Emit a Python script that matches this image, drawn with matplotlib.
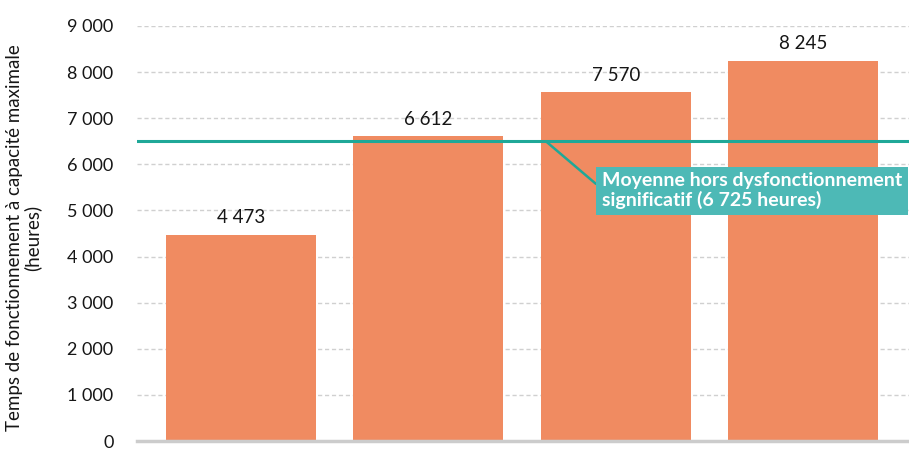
import matplotlib.pyplot as plt

plt.rcParams['font.family'] = ['Lato', 'DejaVu Sans']

# Data
categories = ["A", "B", "C", "D"]
values = [4473, 6612, 7570, 8245]
mean_line = 6500
mean_label = "Moyenne hors dysfonctionnement\nsignificatif (6\u202f725 heures)"
yticks = [0, 1000, 2000, 3000, 4000, 5000, 6000, 7000, 8000, 9000]


def fmt(v):
    return f"{v:,}".replace(",", " ")


fig = plt.figure(figsize=(9.09, 4.49), dpi=100)
ax = fig.add_axes([137 / 909, 8 / 449, 772 / 909, 415 / 449])

x = range(len(categories))
ax.bar(x, values, width=0.8, color="#F08B61", zorder=2)
for xi, v in zip(x, values):
    ax.annotate(fmt(v), (xi, v), xytext=(0, 6), textcoords="offset points",
                ha="center", va="bottom", fontsize=13.5, color="#161616")

ax.set_xlim(-0.555, 3.565)
ax.set_ylim(0, 9000)
ax.set_yticks(yticks)
ax.set_yticklabels([fmt(t) for t in yticks], fontsize=13, color="#161616")
ax.tick_params(axis="y", length=0, pad=17)
ax.set_xticks([])

for t in yticks[1:]:
    ax.axhline(t, color="#d0d0d0", lw=1, ls=(0, (3, 2)), zorder=1)

for s in ["top", "right", "left"]:
    ax.spines[s].set_visible(False)
ax.spines["bottom"].set_color("#cccccc")
ax.spines["bottom"].set_linewidth(2.5)

ax.axhline(mean_line, color="#1FA898", lw=2.2, zorder=3)

ax.annotate(mean_label, xy=(1.627, mean_line), xytext=(1.925, 5430),
            ha="left", va="center", fontsize=14, fontweight="bold",
            color="white", linespacing=1.1,
            bbox=dict(boxstyle="square,pad=0.3", fc="#4DB9B6", ec="none"),
            arrowprops=dict(arrowstyle="-", color="#1FA898", lw=1.8,
                            relpos=(0, 0.55), shrinkA=0, shrinkB=0),
            zorder=4, annotation_clip=False)

ax.set_ylabel("Temps de fonctionnement à capacité maximale\n(heures)",
              fontsize=13.5, color="#161616", linespacing=1.0)
ax.yaxis.set_label_coords(-0.124, 0.49)

fig.savefig("out.png", dpi=100)
